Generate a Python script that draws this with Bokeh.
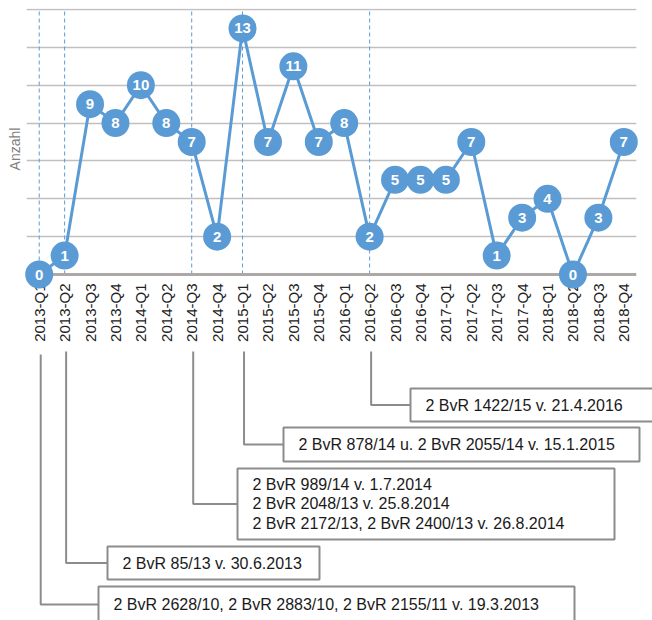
from math import pi
from bokeh.plotting import figure
from bokeh.models import ColumnDataSource, FactorRange, Range1d, FixedTicker, Span, Grid
from bokeh.embed import file_html
from bokeh.resources import INLINE
from bokeh.core.properties import value

# ---------------- data ----------------
quarters = ["2013-Q1", "2013-Q2", "2013-Q3", "2013-Q4",
            "2014-Q1", "2014-Q2", "2014-Q3", "2014-Q4",
            "2015-Q1", "2015-Q2", "2015-Q3", "2015-Q4",
            "2016-Q1", "2016-Q2", "2016-Q3", "2016-Q4",
            "2017-Q1", "2017-Q2", "2017-Q3", "2017-Q4",
            "2018-Q1", "2018-Q2", "2018-Q3", "2018-Q4"]
counts = [0, 1, 9, 8, 10, 8, 7, 2, 13, 7, 11, 7, 8, 2, 5, 5, 5, 7, 1, 3, 4, 0, 3, 7]
marked_quarters = ["2013-Q1", "2013-Q2", "2014-Q3", "2015-Q1", "2016-Q2"]
grid_values = [2, 4, 6, 8, 10, 12, 14]
y_label = "Anzahl"

note_quarters = ["2016-Q2", "2015-Q1", "2014-Q3", "2013-Q2", "2013-Q1"]
note_texts = [
    "2 BvR 1422/15 v. 21.4.2016",
    "2 BvR 878/14 u. 2 BvR 2055/14 v. 15.1.2015",
    "2 BvR 989/14 v. 1.7.2014\n2 BvR 2048/13 v. 25.8.2014\n2 BvR 2172/13, 2 BvR 2400/13 v. 26.8.2014",
    "2 BvR 85/13 v. 30.6.2013",
    "2 BvR 2628/10, 2 BvR 2883/10, 2 BvR 2155/11 v. 19.3.2013",
]

# ---------------- styles / layout ----------------
BLUE = "#5B9BD5"
GRID = "#c3bfbf"
BASE = "#aca8a8"
BOXLINE = "#8c8c8c"
FONT = "Liberation Sans"

LEFT, RIGHT, TOP, BOTTOM = 26, 16, 8, 60
FRAME_W, FRAME_H = 610, 281
Y_START, Y_END = -0.792, 14.053

# ---------------- main chart ----------------
src = ColumnDataSource(dict(q=quarters, n=counts, lab=[str(c) for c in counts]))

p = figure(x_range=FactorRange(*quarters), y_range=Range1d(Y_START, Y_END),
           frame_width=FRAME_W, frame_height=FRAME_H,
           min_border_left=LEFT, min_border_right=RIGHT, min_border_top=TOP, min_border_bottom=BOTTOM,
           toolbar_location=None, output_backend="svg")
p.outline_line_color = None
p.xgrid.grid_line_color = None
p.ygrid.grid_line_color = None
p.background_fill_color = "white"
p.border_fill_color = "white"

g = Grid(dimension=1, ticker=FixedTicker(ticks=grid_values), grid_line_color=GRID, grid_line_width=1.5)
p.add_layout(g)
p.add_layout(Span(location=0, dimension="width", line_color=BASE, line_width=3))

p.segment(x0=marked_quarters, y0=[0] * len(marked_quarters), x1=marked_quarters,
          y1=[14] * len(marked_quarters), line_color=BLUE, line_width=1, line_dash="4 3")

p.line("q", "n", source=src, line_color=BLUE, line_width=3)
p.scatter("q", "n", source=src, size=28, fill_color=BLUE, line_color=None, level="overlay")
p.text("q", "n", text="lab", source=src, text_color="white", text_font=value(FONT),
       text_font_style="bold", text_font_size="15px", text_align="center", text_baseline="middle",
       level="overlay")

ax = p.xaxis[0]
ax.axis_line_color = None
ax.major_tick_line_color = None
ax.minor_tick_line_color = None
ax.major_tick_out = 0
ax.major_tick_in = 0
ax.major_label_orientation = pi / 2
ax.major_label_standoff = -6
ax.major_label_text_font = FONT
ax.major_label_text_font_size = "15px"
ax.major_label_text_color = "#222222"

yax = p.yaxis[0]
yax.ticker = FixedTicker(ticks=[])
yax.axis_line_color = None
yax.major_tick_line_color = None
yax.minor_tick_line_color = None
yax.major_tick_out = 0
yax.major_tick_in = 0
yax.major_label_standoff = 0
yax.major_label_text_font_size = "0px"
yax.axis_label = y_label
yax.axis_label_standoff = 4
yax.axis_label_text_font = FONT
yax.axis_label_text_font_size = "14px"
yax.axis_label_text_font_style = "normal"
yax.axis_label_text_color = "#7f7f7f"

# ---------------- annotation panel ----------------
H2 = 271
W2 = LEFT + FRAME_W + RIGHT
U = FRAME_W / len(quarters)
q2 = figure(width=W2, height=H2,
            x_range=Range1d(-LEFT / U, len(quarters) + RIGHT / U), y_range=Range1d(H2, 0),
            min_border=0, min_border_left=0, min_border_right=0, min_border_top=0, min_border_bottom=0,
            x_axis_location=None, y_axis_location=None,
            toolbar_location=None, output_backend="svg")
q2.outline_line_color = None
q2.xgrid.grid_line_color = None
q2.ygrid.grid_line_color = None

def ux(px):
    return (px - LEFT) / U

# box geometry in panel pixels (left, right, top, bottom)
box_left = [410, 283, 237, 107, 98]
box_right = [690, 639, 614, 319, 574]
box_top = [39, 78, 119, 197, 237]
box_bottom = [72, 112, 190, 230, 300]
conn_top = [2, 2, 2, 2, 5]

cx = [quarters.index(q) + 0.5 + 1.5 / U for q in note_quarters]
mid = [(t + b) / 2 if b < H2 else t + 18 for t, b in zip(box_top, box_bottom)]

xs = [[c, c, ux(l)] for c, l in zip(cx, box_left)]
ys = [[t, m, m] for t, m in zip(conn_top, mid)]
q2.multi_line(xs=xs, ys=ys, line_color=BOXLINE, line_width=2)

q2.quad(left=[ux(v) for v in box_left], right=[ux(v) for v in box_right],
        top=box_top, bottom=box_bottom, fill_color="white", line_color=BOXLINE, line_width=2)

q2.text(x=[ux(v + 15) for v in box_left], y=mid, text=note_texts, text_font=value(FONT),
        text_font_size="16px", text_color="#1a1a1a", text_align="left",
        text_baseline="middle", text_line_height=1.15)

open("out.html", "w").write(file_html([p, q2], INLINE))
